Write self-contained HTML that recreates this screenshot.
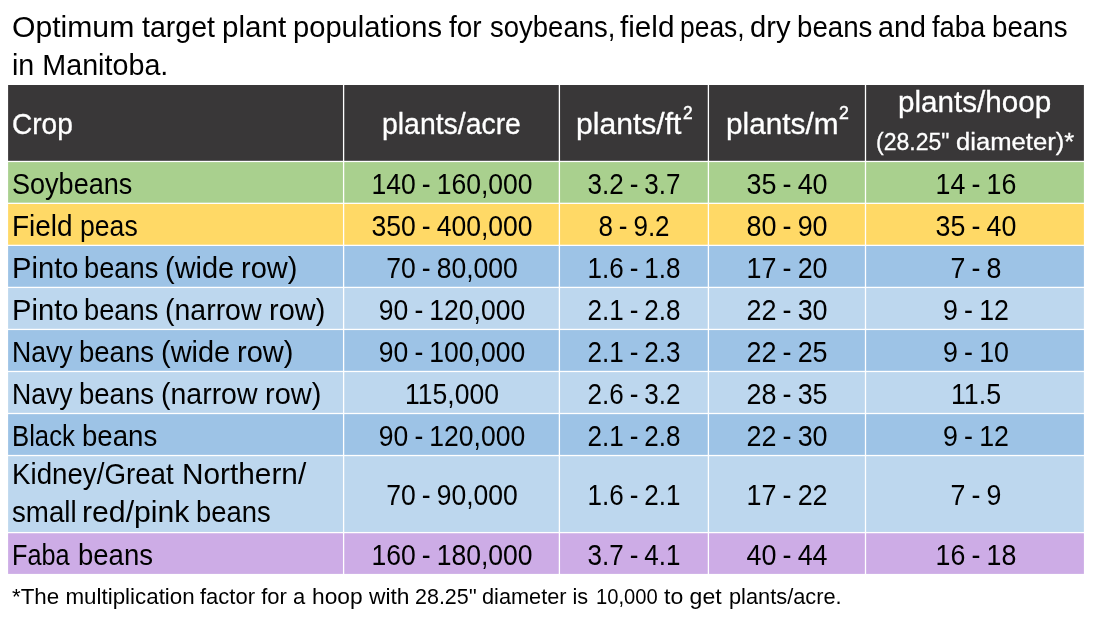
<!DOCTYPE html>
<html lang="en">
<head>
<meta charset="utf-8">
<title>Optimum target plant populations</title>
<style>
html,body{margin:0;padding:0;background:#fff;}
body{position:relative;width:1097px;height:618px;overflow:hidden;font-family:'Liberation Sans', sans-serif;}
.t{position:absolute;white-space:pre;line-height:1;transform-origin:0 0;font-family:'Liberation Sans', sans-serif;}
.n{position:absolute;width:300px;text-align:center;white-space:pre;line-height:1;font-size:28.8px;color:#000;word-spacing:-1.41px;transform-origin:50% 0;transform:scaleX(0.921);font-family:'Liberation Sans', sans-serif;}
</style>
</head>
<body>
<svg width="1097" height="618" viewBox="0 0 1097 618" style="position:absolute;left:0;top:0">
<rect x="8.10" y="85.00" width="334.85" height="75.80" fill="#393738"/>
<rect x="344.25" y="85.00" width="214.50" height="75.80" fill="#393738"/>
<rect x="560.05" y="85.00" width="147.70" height="75.80" fill="#393738"/>
<rect x="709.05" y="85.00" width="155.80" height="75.80" fill="#393738"/>
<rect x="866.15" y="85.00" width="217.75" height="75.80" fill="#393738"/>
<rect x="8.10" y="162.10" width="334.85" height="40.58" fill="#a9d08e"/>
<rect x="344.25" y="162.10" width="214.50" height="40.58" fill="#a9d08e"/>
<rect x="560.05" y="162.10" width="147.70" height="40.58" fill="#a9d08e"/>
<rect x="709.05" y="162.10" width="155.80" height="40.58" fill="#a9d08e"/>
<rect x="866.15" y="162.10" width="217.75" height="40.58" fill="#a9d08e"/>
<rect x="8.10" y="203.98" width="334.85" height="40.74" fill="#ffd966"/>
<rect x="344.25" y="203.98" width="214.50" height="40.74" fill="#ffd966"/>
<rect x="560.05" y="203.98" width="147.70" height="40.74" fill="#ffd966"/>
<rect x="709.05" y="203.98" width="155.80" height="40.74" fill="#ffd966"/>
<rect x="866.15" y="203.98" width="217.75" height="40.74" fill="#ffd966"/>
<rect x="8.10" y="246.02" width="334.85" height="40.73" fill="#9dc3e6"/>
<rect x="344.25" y="246.02" width="214.50" height="40.73" fill="#9dc3e6"/>
<rect x="560.05" y="246.02" width="147.70" height="40.73" fill="#9dc3e6"/>
<rect x="709.05" y="246.02" width="155.80" height="40.73" fill="#9dc3e6"/>
<rect x="866.15" y="246.02" width="217.75" height="40.73" fill="#9dc3e6"/>
<rect x="8.10" y="288.05" width="334.85" height="40.73" fill="#bdd7ee"/>
<rect x="344.25" y="288.05" width="214.50" height="40.73" fill="#bdd7ee"/>
<rect x="560.05" y="288.05" width="147.70" height="40.73" fill="#bdd7ee"/>
<rect x="709.05" y="288.05" width="155.80" height="40.73" fill="#bdd7ee"/>
<rect x="866.15" y="288.05" width="217.75" height="40.73" fill="#bdd7ee"/>
<rect x="8.10" y="330.08" width="334.85" height="40.74" fill="#9dc3e6"/>
<rect x="344.25" y="330.08" width="214.50" height="40.74" fill="#9dc3e6"/>
<rect x="560.05" y="330.08" width="147.70" height="40.74" fill="#9dc3e6"/>
<rect x="709.05" y="330.08" width="155.80" height="40.74" fill="#9dc3e6"/>
<rect x="866.15" y="330.08" width="217.75" height="40.74" fill="#9dc3e6"/>
<rect x="8.10" y="372.12" width="334.85" height="40.73" fill="#bdd7ee"/>
<rect x="344.25" y="372.12" width="214.50" height="40.73" fill="#bdd7ee"/>
<rect x="560.05" y="372.12" width="147.70" height="40.73" fill="#bdd7ee"/>
<rect x="709.05" y="372.12" width="155.80" height="40.73" fill="#bdd7ee"/>
<rect x="866.15" y="372.12" width="217.75" height="40.73" fill="#bdd7ee"/>
<rect x="8.10" y="414.15" width="334.85" height="40.73" fill="#9dc3e6"/>
<rect x="344.25" y="414.15" width="214.50" height="40.73" fill="#9dc3e6"/>
<rect x="560.05" y="414.15" width="147.70" height="40.73" fill="#9dc3e6"/>
<rect x="709.05" y="414.15" width="155.80" height="40.73" fill="#9dc3e6"/>
<rect x="866.15" y="414.15" width="217.75" height="40.73" fill="#9dc3e6"/>
<rect x="8.10" y="456.18" width="334.85" height="75.77" fill="#bdd7ee"/>
<rect x="344.25" y="456.18" width="214.50" height="75.77" fill="#bdd7ee"/>
<rect x="560.05" y="456.18" width="147.70" height="75.77" fill="#bdd7ee"/>
<rect x="709.05" y="456.18" width="155.80" height="75.77" fill="#bdd7ee"/>
<rect x="866.15" y="456.18" width="217.75" height="75.77" fill="#bdd7ee"/>
<rect x="8.10" y="533.25" width="334.85" height="40.65" fill="#cdace6"/>
<rect x="344.25" y="533.25" width="214.50" height="40.65" fill="#cdace6"/>
<rect x="560.05" y="533.25" width="147.70" height="40.65" fill="#cdace6"/>
<rect x="709.05" y="533.25" width="155.80" height="40.65" fill="#cdace6"/>
<rect x="866.15" y="533.25" width="217.75" height="40.65" fill="#cdace6"/>
</svg>
<div class="t" style="left:11.69px;top:51.12px;font-size:28.8px;color:#000;transform:scaleX(0.9964);">in Manitoba.</div>
<div class="t" style="left:11.53px;top:110.15px;font-size:29px;color:#fff;transform:scaleX(0.9672);-webkit-text-stroke:0.3px;">Crop</div>
<div class="t" style="left:382.16px;top:110.15px;font-size:29px;color:#fff;transform:scaleX(0.9790);-webkit-text-stroke:0.3px;">plants/acre</div>
<div class="t" style="left:575.86px;top:110.15px;font-size:29px;color:#fff;transform:scaleX(1.0386);-webkit-text-stroke:0.3px;">plants/ft</div>
<div class="t" style="left:682.90px;top:104.79px;font-size:17.5px;color:#fff;transform:scaleX(0.9879);-webkit-text-stroke:0.5px;">2</div>
<div class="t" style="left:725.58px;top:110.15px;font-size:29px;color:#fff;transform:scaleX(1.0261);-webkit-text-stroke:0.3px;">plants/m</div>
<div class="t" style="left:838.70px;top:104.79px;font-size:17.5px;color:#fff;transform:scaleX(1.0099);-webkit-text-stroke:0.5px;">2</div>
<div class="t" style="left:897.89px;top:88.05px;font-size:29px;color:#fff;transform:scaleX(1.0215);-webkit-text-stroke:0.3px;">plants/hoop</div>
<div class="t" style="left:875.52px;top:130.71px;font-size:23.5px;color:#fff;transform:scaleX(0.9800);-webkit-text-stroke:0.3px;">(28.25" </div>
<div class="t" style="left:955.88px;top:130.71px;font-size:23.5px;color:#fff;transform:scaleX(1.0902);-webkit-text-stroke:0.3px;">diameter)*</div>
<div class="t" style="left:11.65px;top:13.32px;font-size:28.8px;color:#000;transform:scaleX(1.0465);">Optimum </div>
<div class="t" style="left:141.50px;top:13.32px;font-size:28.8px;color:#000;transform:scaleX(0.9905);">target </div>
<div class="t" style="left:222.06px;top:13.32px;font-size:28.8px;color:#000;transform:scaleX(1.0280);">plant </div>
<div class="t" style="left:292.99px;top:13.32px;font-size:28.8px;color:#000;transform:scaleX(1.0116);">populations </div>
<div class="t" style="left:449.30px;top:13.32px;font-size:28.8px;color:#000;transform:scaleX(0.9725);">for </div>
<div class="t" style="left:489.68px;top:13.32px;font-size:28.8px;color:#000;transform:scaleX(0.9552);">soybeans, </div>
<div class="t" style="left:619.50px;top:13.32px;font-size:28.8px;color:#000;transform:scaleX(1.0314);">field </div>
<div class="t" style="left:679.97px;top:13.32px;font-size:28.8px;color:#000;transform:scaleX(0.9181);">peas, </div>
<div class="t" style="left:749.69px;top:13.32px;font-size:28.8px;color:#000;transform:scaleX(1.0128);">dry </div>
<div class="t" style="left:796.79px;top:13.32px;font-size:28.8px;color:#000;transform:scaleX(0.9612);">beans </div>
<div class="t" style="left:878.10px;top:13.32px;font-size:28.8px;color:#000;transform:scaleX(0.9953);">and </div>
<div class="t" style="left:932.00px;top:13.32px;font-size:28.8px;color:#000;transform:scaleX(0.9515);">faba </div>
<div class="t" style="left:991.58px;top:13.32px;font-size:28.8px;color:#000;transform:scaleX(0.9625);">beans</div>
<div class="t" style="left:11.62px;top:585.75px;font-size:22.5px;color:#000;transform:scaleX(0.9939);">*The multiplication </div>
<div class="t" style="left:200.40px;top:585.75px;font-size:22.5px;color:#000;transform:scaleX(0.9778);">factor for a </div>
<div class="t" style="left:312.39px;top:585.75px;font-size:22.5px;color:#000;transform:scaleX(1.0117);">hoop with </div>
<div class="t" style="left:415.25px;top:585.75px;font-size:22.5px;color:#000;transform:scaleX(0.9540);">28.25'' </div>
<div class="t" style="left:481.95px;top:585.75px;font-size:22.5px;color:#000;transform:scaleX(0.9652);">diameter is </div>
<div class="t" style="left:596.16px;top:585.75px;font-size:22.5px;color:#000;transform:scaleX(0.8962);">10,000 </div>
<div class="t" style="left:663.90px;top:585.75px;font-size:22.5px;color:#000;transform:scaleX(1.0237);">to get </div>
<div class="t" style="left:729.13px;top:585.75px;font-size:22.5px;color:#000;transform:scaleX(0.9682);">plants/acre.</div>
<div class="t" style="left:11.66px;top:170.07px;font-size:28.8px;color:#000;transform:scaleX(0.9392);">Soybeans</div>
<div class="t" style="left:11.96px;top:211.95px;font-size:28.8px;color:#000;transform:scaleX(0.9712);">Field </div>
<div class="t" style="left:79.56px;top:211.95px;font-size:28.8px;color:#000;transform:scaleX(0.9238);">peas</div>
<div class="t" style="left:12.07px;top:253.99px;font-size:28.8px;color:#000;transform:scaleX(1.0137);">Pinto </div>
<div class="t" style="left:83.71px;top:253.99px;font-size:28.8px;color:#000;transform:scaleX(0.9479);">beans </div>
<div class="t" style="left:165.09px;top:253.99px;font-size:28.8px;color:#000;transform:scaleX(1.0061);">(wide </div>
<div class="t" style="left:240.86px;top:253.99px;font-size:28.8px;color:#000;transform:scaleX(1.0090);">row)</div>
<div class="t" style="left:12.07px;top:296.02px;font-size:28.8px;color:#000;transform:scaleX(1.0137);">Pinto </div>
<div class="t" style="left:83.71px;top:296.02px;font-size:28.8px;color:#000;transform:scaleX(0.9479);">beans </div>
<div class="t" style="left:165.12px;top:296.02px;font-size:28.8px;color:#000;transform:scaleX(0.9886);">(narrow </div>
<div class="t" style="left:269.06px;top:296.02px;font-size:28.8px;color:#000;transform:scaleX(1.0052);">row)</div>
<div class="t" style="left:12.25px;top:338.05px;font-size:28.8px;color:#000;transform:scaleX(0.9250);">Navy </div>
<div class="t" style="left:79.40px;top:338.05px;font-size:28.8px;color:#000;transform:scaleX(0.9559);">beans </div>
<div class="t" style="left:160.79px;top:338.05px;font-size:28.8px;color:#000;transform:scaleX(1.0061);">(wide </div>
<div class="t" style="left:236.56px;top:338.05px;font-size:28.8px;color:#000;transform:scaleX(1.0090);">row)</div>
<div class="t" style="left:12.25px;top:380.09px;font-size:28.8px;color:#000;transform:scaleX(0.9250);">Navy </div>
<div class="t" style="left:79.40px;top:380.09px;font-size:28.8px;color:#000;transform:scaleX(0.9559);">beans </div>
<div class="t" style="left:160.82px;top:380.09px;font-size:28.8px;color:#000;transform:scaleX(0.9886);">(narrow </div>
<div class="t" style="left:264.76px;top:380.09px;font-size:28.8px;color:#000;transform:scaleX(1.0071);">row)</div>
<div class="t" style="left:12.31px;top:422.12px;font-size:28.8px;color:#000;transform:scaleX(0.8926);">Black </div>
<div class="t" style="left:81.69px;top:422.12px;font-size:28.8px;color:#000;transform:scaleX(0.9599);">beans</div>
<div class="t" style="left:12.18px;top:460.12px;font-size:28.8px;color:#000;transform:scaleX(0.9620);">Kidney/Great </div>
<div class="t" style="left:182.43px;top:460.12px;font-size:28.8px;color:#000;transform:scaleX(1.0347);">Northern/</div>
<div class="t" style="left:11.78px;top:498.12px;font-size:28.8px;color:#000;transform:scaleX(0.9618);">small </div>
<div class="t" style="left:81.88px;top:498.12px;font-size:28.8px;color:#000;transform:scaleX(1.0490);">red/pink </div>
<div class="t" style="left:196.20px;top:498.12px;font-size:28.8px;color:#000;transform:scaleX(0.9519);">beans</div>
<div class="t" style="left:12.25px;top:541.22px;font-size:28.8px;color:#000;transform:scaleX(0.8766);">Faba </div>
<div class="t" style="left:77.80px;top:541.22px;font-size:28.8px;color:#000;transform:scaleX(0.9559);">beans</div>
<div class="n" style="left:301.50px;top:170.07px;transform:scaleX(0.921)">140 - 160,000</div>
<div class="n" style="left:484.30px;top:170.07px;transform:scaleX(0.903)">3.2 - 3.7</div>
<div class="n" style="left:637.45px;top:170.07px;transform:scaleX(0.935)">35 - 40</div>
<div class="n" style="left:825.70px;top:170.07px;transform:scaleX(0.93)">14 - 16</div>
<div class="n" style="left:301.50px;top:211.95px;transform:scaleX(0.921)">350 - 400,000</div>
<div class="n" style="left:484.30px;top:211.95px;transform:scaleX(0.903)">8 - 9.2</div>
<div class="n" style="left:637.45px;top:211.95px;transform:scaleX(0.935)">80 - 90</div>
<div class="n" style="left:825.70px;top:211.95px;transform:scaleX(0.93)">35 - 40</div>
<div class="n" style="left:301.50px;top:253.99px;transform:scaleX(0.921)">70 - 80,000</div>
<div class="n" style="left:484.30px;top:253.99px;transform:scaleX(0.903)">1.6 - 1.8</div>
<div class="n" style="left:637.45px;top:253.99px;transform:scaleX(0.935)">17 - 20</div>
<div class="n" style="left:825.70px;top:253.99px;transform:scaleX(0.93)">7 - 8</div>
<div class="n" style="left:301.50px;top:296.02px;transform:scaleX(0.921)">90 - 120,000</div>
<div class="n" style="left:484.30px;top:296.02px;transform:scaleX(0.903)">2.1 - 2.8</div>
<div class="n" style="left:637.45px;top:296.02px;transform:scaleX(0.935)">22 - 30</div>
<div class="n" style="left:825.70px;top:296.02px;transform:scaleX(0.93)">9 - 12</div>
<div class="n" style="left:301.50px;top:338.05px;transform:scaleX(0.921)">90 - 100,000</div>
<div class="n" style="left:484.30px;top:338.05px;transform:scaleX(0.903)">2.1 - 2.3</div>
<div class="n" style="left:637.45px;top:338.05px;transform:scaleX(0.935)">22 - 25</div>
<div class="n" style="left:825.70px;top:338.05px;transform:scaleX(0.93)">9 - 10</div>
<div class="n" style="left:301.50px;top:380.09px;transform:scaleX(0.921)">115,000</div>
<div class="n" style="left:484.30px;top:380.09px;transform:scaleX(0.903)">2.6 - 3.2</div>
<div class="n" style="left:637.45px;top:380.09px;transform:scaleX(0.935)">28 - 35</div>
<div class="n" style="left:825.70px;top:380.09px;transform:scaleX(0.93)">11.5</div>
<div class="n" style="left:301.50px;top:422.12px;transform:scaleX(0.921)">90 - 120,000</div>
<div class="n" style="left:484.30px;top:422.12px;transform:scaleX(0.903)">2.1 - 2.8</div>
<div class="n" style="left:637.45px;top:422.12px;transform:scaleX(0.935)">22 - 30</div>
<div class="n" style="left:825.70px;top:422.12px;transform:scaleX(0.93)">9 - 12</div>
<div class="n" style="left:301.50px;top:481.12px;transform:scaleX(0.921)">70 - 90,000</div>
<div class="n" style="left:484.30px;top:481.12px;transform:scaleX(0.903)">1.6 - 2.1</div>
<div class="n" style="left:637.45px;top:481.12px;transform:scaleX(0.935)">17 - 22</div>
<div class="n" style="left:825.70px;top:481.12px;transform:scaleX(0.93)">7 - 9</div>
<div class="n" style="left:301.50px;top:541.22px;transform:scaleX(0.921)">160 - 180,000</div>
<div class="n" style="left:484.30px;top:541.22px;transform:scaleX(0.903)">3.7 - 4.1</div>
<div class="n" style="left:637.45px;top:541.22px;transform:scaleX(0.935)">40 - 44</div>
<div class="n" style="left:825.70px;top:541.22px;transform:scaleX(0.93)">16 - 18</div>
</body>
</html>
